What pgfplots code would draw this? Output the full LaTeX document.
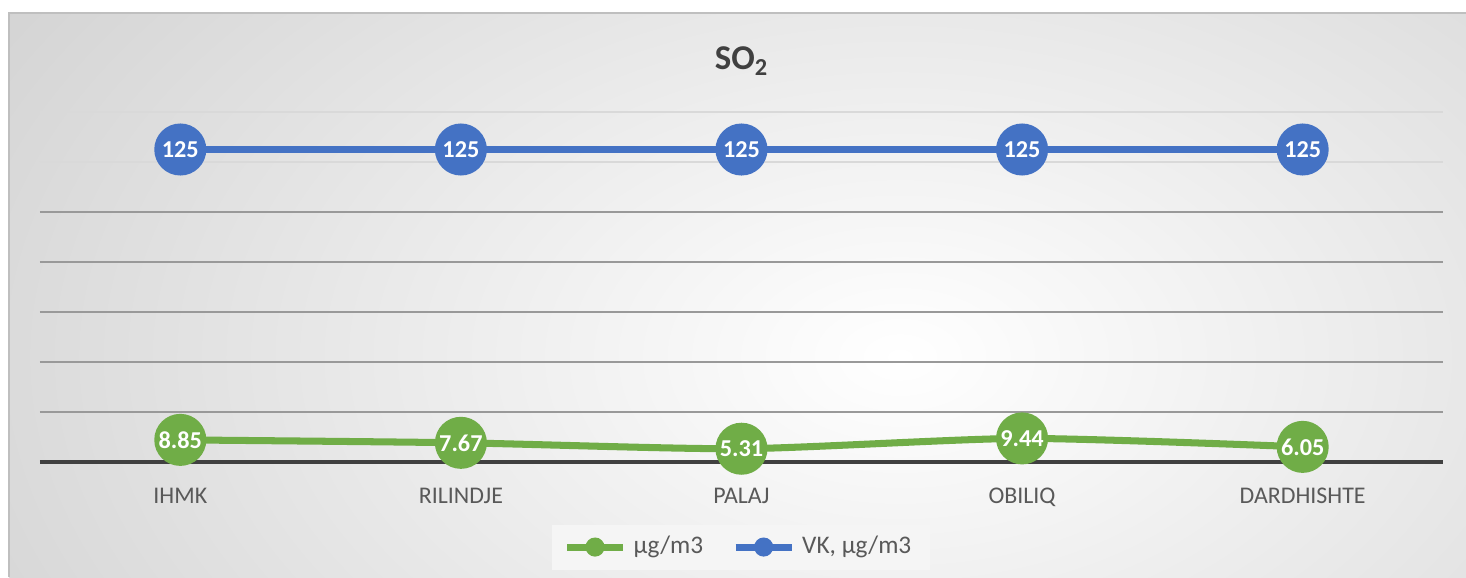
\documentclass[border=0pt]{standalone}
\usepackage{pgfplots}
\pgfplotsset{compat=1.18}
\usepackage{fontspec}
\setmainfont{Carlito}
\definecolor{cgreen}{HTML}{70AD47}
\definecolor{cblue}{HTML}{4472C4}
\definecolor{ctext}{HTML}{595959}
\definecolor{ctitle}{HTML}{404040}
\pgfplotstableread{
x y l
0 8.85 8.85
1 7.67 7.67
2 5.31 5.31
3 9.44 9.44
4 6.05 6.05
}\greendata
\pgfplotstableread{
x y l
0 125 125
1 125 125
2 125 125
3 125 125
4 125 125
}\bluedata
\begin{document}
\begin{tikzpicture}
\useasboundingbox (0,0) rectangle (14.66cm,5.77cm);
\begin{scope}
\clip (0.09cm,0) rectangle (14.66cm,5.64cm);
\shade[inner color=white, outer color=black!28] (9.0cm,2.2cm) ellipse [x radius=17.5cm, y radius=11cm];
\end{scope}
\draw[black!25, line width=0.6pt] (0.09cm,0) -- (0.09cm,5.64cm) -- (14.66cm,5.64cm);
\node[anchor=base, font=\bfseries\fontsize{9.9}{11}\selectfont, text=ctitle] at (7.42cm,5.07cm) {SO\textsubscript{2}};
\begin{axis}[
  at={(0.40cm,1.15cm)}, anchor=south west,
  width=14.03cm, height=3.50cm, scale only axis,
  xmin=-0.5, xmax=4.5, ymin=0, ymax=140,
  clip=false,
  axis x line*=bottom, axis y line*=left,
  x axis line style={-, color=black!75, line width=0.9pt},
  y axis line style={draw=none},
  xtick={0,1,2,3,4}, xticklabels={IHMK,RILINDJE,PALAJ,OBILIQ,DARDHISHTE},
  major tick length=0pt,
  tick style={draw=none},
  xticklabel style={font=\fontsize{6.8}{8}\selectfont, text=ctext, yshift=-3.8pt},
  ytick={0,20,40,60,80,100}, yticklabels={},
  ymajorgrids, grid style={black!40, line width=0.5pt},
  extra y ticks={120,140}, extra y tick labels={},
  extra y tick style={grid style={black!15, line width=0.5pt}},
  legend style={at={(0.4996,-0.243)}, anchor=center, draw=none, fill=black!4,
    font=\fontsize{7.2}{8.5}\selectfont, text=ctext, legend columns=2,
    /tikz/every even column/.append style={column sep=0.22cm},
    inner xsep=0.12cm, inner ysep=0.04cm},
  legend image code/.code={\draw[#1, mark size=1.7pt, mark repeat=2, mark phase=2] plot coordinates {(0cm,0cm) (0.28cm,0cm) (0.56cm,0cm)};},
  every node near coord/.append style={anchor=center, text=white, font=\bfseries\fontsize{6.9}{8}\selectfont},
]
\addplot[cgreen, line width=2pt, smooth, tension=0.4, mark=*, mark size=6.4pt, mark options={fill=cgreen, draw=cgreen},
  nodes near coords, point meta=explicit symbolic] table[x=x, y=y, meta=l] {\greendata};
\addlegendentry{µg/m3}
\addplot[cblue, line width=2pt, mark=*, mark size=6.4pt, mark options={fill=cblue, draw=cblue},
  nodes near coords, point meta=explicit symbolic] table[x=x, y=y, meta=l] {\bluedata};
\addlegendentry{VK, µg/m3}
\end{axis}
\end{tikzpicture}
\end{document}
